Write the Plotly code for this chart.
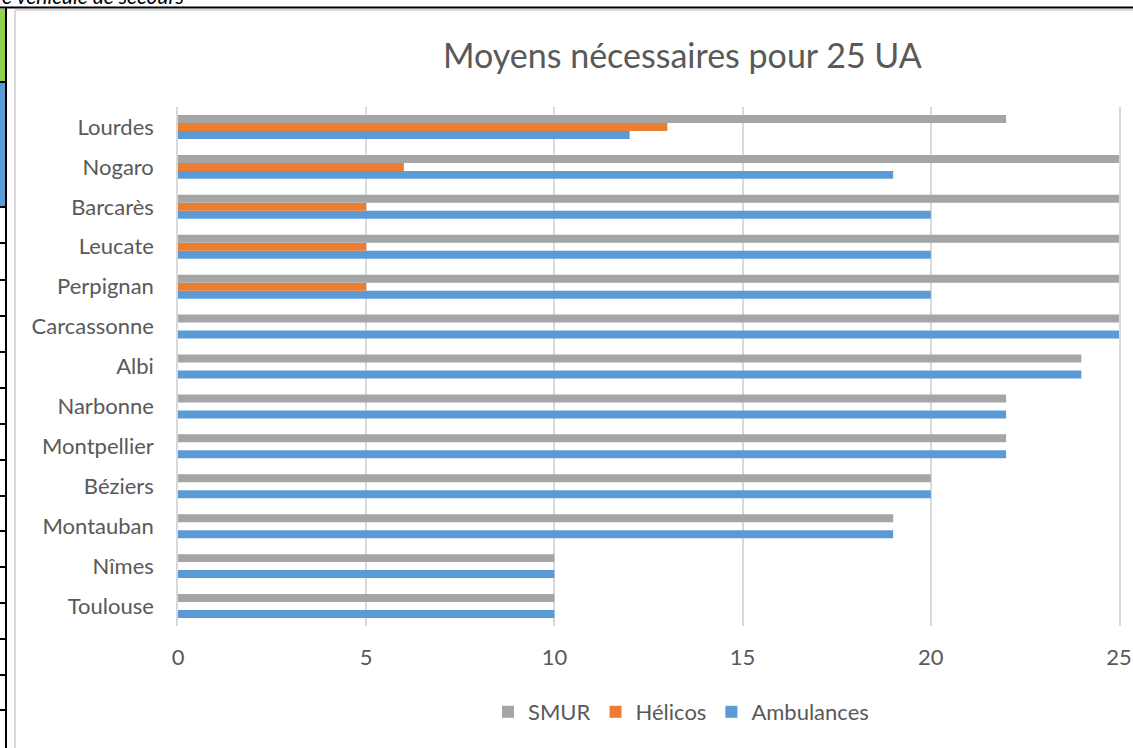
import plotly.graph_objects as go

# Categories listed bottom-to-top (first category sits at the bottom of the axis)
villes = ["Toulouse", "Nîmes", "Montauban", "Béziers", "Montpellier", "Narbonne",
          "Albi", "Carcassonne", "Perpignan", "Leucate", "Barcarès", "Nogaro", "Lourdes"]
smur = [10, 10, 19, 20, 22, 22, 24, 25, 25, 25, 25, 25, 22]
helicos = [0, 0, 0, 0, 0, 0, 0, 0, 5, 5, 5, 6, 13]
ambulances = [10, 10, 19, 20, 22, 22, 24, 25, 20, 20, 20, 19, 12]
x_ticks = [0, 5, 10, 15, 20, 25]

W, H = 1133, 748
L, R, T, B = 178, 14, 107, 122
PW, PH = W - L - R, H - T - B
TXT = "#595959"
FONT = "Lato"


def px(x):
    return (x - L) / PW


def py(y):
    return (H - B - y) / PH


fig = go.Figure()
fig.add_trace(go.Bar(name="Ambulances", y=villes, x=ambulances, orientation="h",
                     marker=dict(color="#5b9bd5", line=dict(width=0))))
fig.add_trace(go.Bar(name="Hélicos", y=villes, x=helicos, orientation="h",
                     marker=dict(color="#ed7d31", line=dict(width=0))))
fig.add_trace(go.Bar(name="SMUR", y=villes, x=smur, orientation="h",
                     marker=dict(color="#a5a5a5", line=dict(width=0))))

shapes = []
# page chrome: table border lines and coloured cells on the left
shapes.append(dict(type="rect", xref="paper", yref="paper", x0=px(0), x1=px(5.5),
                   y0=py(82), y1=py(9), fillcolor="#92d050", line=dict(width=0), layer="below"))
shapes.append(dict(type="rect", xref="paper", yref="paper", x0=px(0), x1=px(5.5),
                   y0=py(207), y1=py(83), fillcolor="#5b9bd5", line=dict(width=0), layer="below"))
for yy in [82, 207, 243, 280, 316, 352, 388, 424, 460, 496, 531, 567, 603, 639, 675, 710]:
    shapes.append(dict(type="line", xref="paper", yref="paper", x0=px(0), x1=px(6),
                       y0=py(yy), y1=py(yy), line=dict(color="black", width=2)))
shapes.append(dict(type="line", xref="paper", yref="paper", x0=px(6), x1=px(6),
                   y0=py(7), y1=py(H + 2), line=dict(color="black", width=2)))
shapes.append(dict(type="line", xref="paper", yref="paper", x0=px(0), x1=px(W),
                   y0=py(7.5), y1=py(7.5), line=dict(color="black", width=2)))
# chart frame
shapes.append(dict(type="line", xref="paper", yref="paper", x0=px(15), x1=px(15),
                   y0=py(10), y1=py(H + 2), line=dict(color="#d9d9d9", width=2)))
shapes.append(dict(type="line", xref="paper", yref="paper", x0=px(15), x1=px(W + 2),
                   y0=py(10), y1=py(10), line=dict(color="#d9d9d9", width=2)))

annotations = [
    dict(text="Moyens nécessaires pour 25 UA", xref="paper", yref="paper",
         x=px(682), y=py(55), xanchor="center", yanchor="middle", showarrow=False,
         font=dict(family=FONT, size=34, color=TXT)),
    dict(text="<i>e véhicule de secours</i>", xref="paper", yref="paper",
         x=px(186), y=py(10), xanchor="right", yanchor="bottom", showarrow=False,
         font=dict(family=FONT, size=21, color="black")),
]

fig.update_layout(
    width=W, height=H,
    margin=dict(l=L, r=R, t=T, b=B, autoexpand=False),
    paper_bgcolor="white", plot_bgcolor="white",
    font=dict(family=FONT, color=TXT, size=22),
    barmode="group", bargap=0.4, bargroupgap=0,
    showlegend=True,
    legend=dict(orientation="h", traceorder="reversed", x=px(681), xanchor="center",
                y=py(712), yanchor="middle", font=dict(family=FONT, size=22, color=TXT),
                itemwidth=30, bgcolor="rgba(0,0,0,0)"),
    xaxis=dict(range=[0, 25], tickvals=x_ticks, showgrid=True, gridcolor="#d9d9d9",
               gridwidth=1.5, zeroline=False, showline=False, automargin=False,
               ticklabelstandoff=16, tickfont=dict(family=FONT, size=22, color=TXT)),
    yaxis=dict(categoryorder="array", categoryarray=villes, showgrid=False,
               showline=True, mirror=True, linecolor="#d9d9d9", linewidth=1.5,
               automargin=False, ticklabelstandoff=18,
               tickfont=dict(family=FONT, size=22, color=TXT)),
    shapes=shapes,
    annotations=annotations,
)

fig.write_html("out.html")
